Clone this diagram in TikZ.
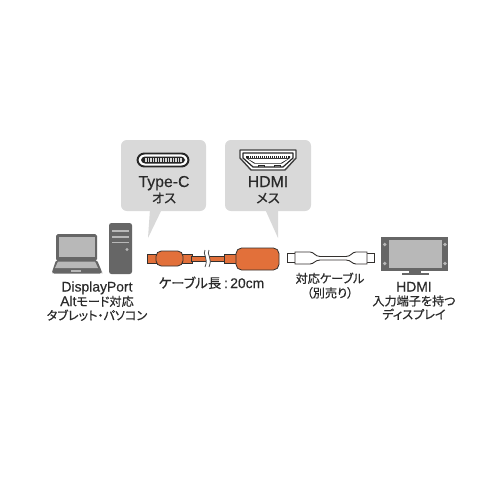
\documentclass[tikz,border=0pt]{standalone}
\usepackage{fontspec}
\setmainfont[FakeBold=0.35]{Liberation Sans}
\newfontfamily\jpfont[FakeBold=0.5,RawFeature={+palt}]{Noto Sans CJK JP}
\newcommand{\jp}[1]{{\jpfont\fontsize{6.9}{8}\selectfont #1}}
\newcommand{\jpbig}[1]{{\jpfont\fontsize{7.6}{9}\selectfont #1}}
\newcommand{\lat}[1]{{\fontsize{7.9}{9}\selectfont #1}}
\newcommand{\headtxt}[1]{{\fontsize{9}{10}\selectfont #1}}
\definecolor{bubble}{HTML}{D9D9D9}
\definecolor{orangebody}{HTML}{E2703A}
\definecolor{darkoutline}{HTML}{33302E}
\definecolor{devicegrey}{HTML}{666666}
\definecolor{screengrey}{HTML}{B8B8B8}
\definecolor{textcol}{HTML}{2A2A2A}
\tikzset{
  label text/.style={inner sep=0pt,text=textcol,align=center,anchor=base},
  callout/.style={fill=bubble,rounded corners=3.4pt},
  orange part/.style={fill=orangebody,draw=darkoutline,line width=0.45pt},
  white part/.style={fill=white,draw=darkoutline,line width=0.5pt},
  device/.style={fill=devicegrey},
}
\begin{document}
\begin{tikzpicture}[x=0.02cm,y=-0.02cm]
\useasboundingbox (0,0) rectangle (500,500);
\fill[white] (0,0) rectangle (500,500);

% callouts
\fill[callout] (121,140) rectangle (206,211);
\fill[bubble] (150,209) -- (148,238) -- (162,209) -- cycle;
\fill[callout] (225,140) rectangle (311,211);
\fill[bubble] (265,209) -- (278,238) -- (278,209) -- cycle;

% USB Type-C receptacle icon
\draw[fill=white,draw=black!85,line width=1.1pt,rounded corners=3.9pt] (137.5,153.5) rectangle (188.5,166.5);
\fill[black!85,rounded corners=2.3pt] (141,156.5) rectangle (185,163.5);
\foreach \px in {146,148.5,...,181}{
  \fill[white!85!black] (\px-0.6,157.6) rectangle (\px+0.6,159.6);
  \fill[white!85!black] (\px-0.6,160.4) rectangle (\px+0.6,162.4);
}

% HDMI receptacle icon
\draw[fill=white,draw=black!75,line width=0.8pt,line join=round]
  (240,150) -- (296,150) -- (296,158) -- (285,170) -- (251,170) -- (240,158) -- cycle;
\draw[fill=white,draw=black!85,line width=0.7pt,line join=round]
  (243,153) -- (293,153) -- (293,158) -- (283,167) -- (253,167) -- (243,158) -- cycle;
\fill[black!85] (246,156) -- (290,156) -- (290,158) -- (282,163.5) -- (254,163.5) -- (246,158) -- cycle;
\fill[white] (248,158.8) -- (288,158.8) -- (281,162.8) -- (255,162.8) -- cycle;
\foreach \px in {249,251,...,287}{
  \fill[white] (\px-0.45,156.4) rectangle (\px+0.45,158);
}
\draw[black!85,line width=0.5pt] (258,167) -- (258,165) -- (264,165) -- (264,167);
\draw[black!85,line width=0.5pt] (274,167) -- (274,165) -- (280,165) -- (280,167);

% callout captions
\node[label text] (typec) at (164,187) {\headtxt{Type-C}};
\node[label text] (male) at (164,203) {\jpbig{オス}};
\node[label text] (hdmi) at (268,187) {\headtxt{HDMI}};
\node[label text] (female) at (268,203) {\jpbig{メス}};

% laptop
\fill[device,rounded corners=1pt] (56,234) rectangle (97,261);
\fill[screengrey] (58.5,237) rectangle (94.5,257);
\fill[device,rounded corners=1pt] (56,260) -- (97,260) -- (102,272) -- (102,273.5) -- (52,273.5) -- (52,272) -- cycle;
\fill[screengrey] (58,261.5) -- (95,261.5) -- (98,268) -- (55,268) -- cycle;
\fill[screengrey] (71,270) rectangle (81,272);

% desktop tower
\fill[device,rounded corners=1.4pt] (109,223) rectangle (132,274);
\fill[screengrey] (112,230) rectangle (129,231.6);
\fill[screengrey] (112,236) rectangle (129,237.6);
\fill[screengrey] (112,241.5) rectangle (129,243.1);
\fill[screengrey] (127,249.5) circle (1.7);

% Type-C to HDMI adapter cable
\draw[orange part] (147,254) rectangle (158,263);
\draw[orange part] (182,254) rectangle (192,263);
\draw[orange part] (191,256) rectangle (225,261);
\draw[orange part] (224,254) rectangle (237,263);
\draw[orange part,rounded corners=3pt] (156,251) rectangle (183,266);
\draw[orange part,rounded corners=3.2pt] (236,248) rectangle (279,270);
% break mark in the cable
\fill[white] (205,250) .. controls (202,254) and (209,258) .. (205,267) -- (209,267) .. controls (213,258) and (206,254) .. (209,250) -- cycle;
\draw[black!70,line width=0.45pt] (205,250) .. controls (202,254) and (209,258) .. (205,267);
\draw[black!70,line width=0.45pt] (209,250) .. controls (206,254) and (213,258) .. (209,267);

% separately sold HDMI cable
\draw[white part] (287,253.5) rectangle (296,262.5);
\draw[white part] (366,253.5) rectangle (374,262.5);
\draw[white part] (295,252) -- (310,252) .. controls (314,252) and (315,256.5) .. (320,256.5)
  -- (346,256.5) .. controls (351,256.5) and (352,252) .. (356,252) -- (367,252) -- (367,264) -- (356,264)
  .. controls (352,264) and (351,260) .. (346,260) -- (320,260) .. controls (315,260) and (314,264) .. (310,264) -- (295,264) -- cycle;

% television
\fill[device] (381,237) rectangle (448,271);
\fill[screengrey] (388.5,239.5) rectangle (441.5,267.5);
\foreach \ty in {244.5,263.5}{
  \fill[screengrey] (384.7,\ty) circle (1.8);
  \fill[screengrey] (445,\ty) circle (1.8);
}
\fill[device] (409,271) rectangle (421,273);
\fill[device] (402,273) rectangle (429,274.5);

% captions
\node[label text] (pc1) at (97,291.5) {\lat{DisplayPort}};
\node[label text] (pc2) at (97,306) {\lat{Alt}\jp{モード対応}};
\node[label text] (pc3) at (97,320) {\jp{タブレット・パソコン}};
\node[label text] (len) at (211.5,288) {\jpbig{ケーブル長}\,\lat{:\,20cm}};
\node[label text] (cab1) at (330,283) {\jp{対応ケーブル}};
\node[label text] (cab2) at (330,297.5) {\jp{（別売り）}};
\node[label text] (tv1) at (414,291.5) {\lat{HDMI}};
\node[label text] (tv2) at (414,305.5) {\jp{入力端子を持つ}};
\node[label text] (tv3) at (414,319) {\jp{ディスプレイ}};
\end{tikzpicture}
\end{document}
